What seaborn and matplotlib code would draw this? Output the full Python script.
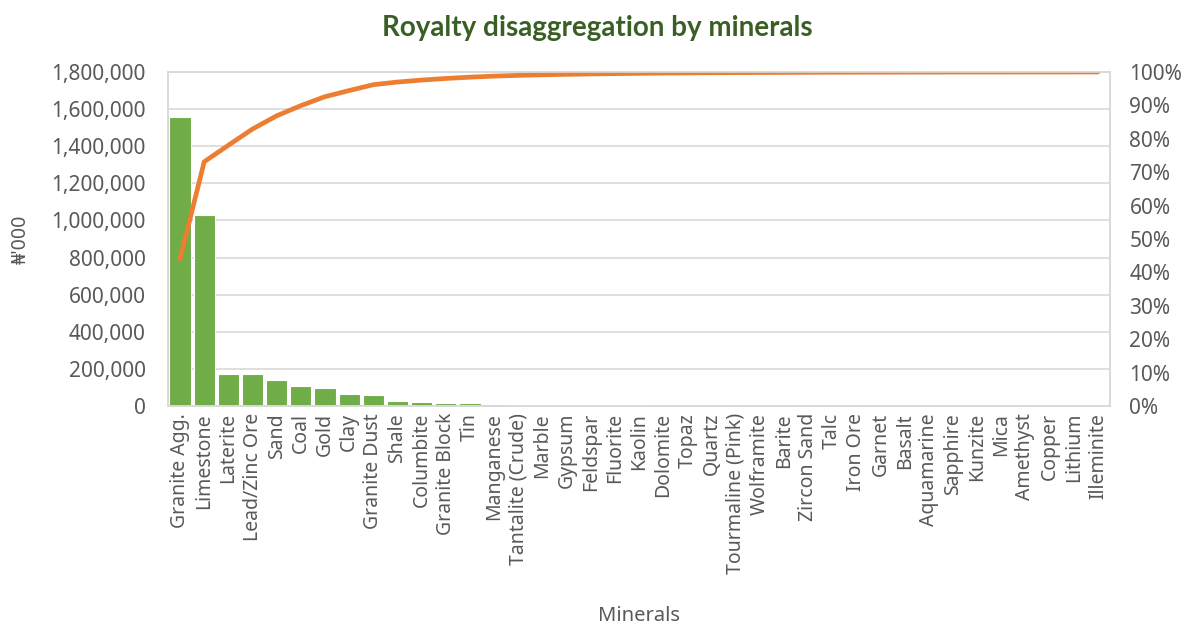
import numpy as np
import pandas as pd
import matplotlib
matplotlib.use("Agg")
import matplotlib.pyplot as plt
from matplotlib.ticker import FuncFormatter, MultipleLocator
import seaborn as sns

# Royalty by mineral, in thousands of naira, sorted descending
minerals = [
    "Granite Agg.", "Limestone", "Laterite", "Lead/Zinc Ore", "Sand", "Coal",
    "Gold", "Clay", "Granite Dust", "Shale", "Columbite", "Granite Block",
    "Tin", "Manganese", "Tantalite (Crude)", "Marble", "Gypsum", "Feldspar",
    "Fluorite", "Kaolin", "Dolomite", "Topaz", "Quartz", "Tourmaline (Pink)",
    "Wolframite", "Barite", "Zircon Sand", "Talc", "Iron Ore", "Garnet",
    "Basalt", "Aquamarine", "Sapphire", "Kunzite", "Mica", "Amethyst",
    "Copper", "Lithium", "Illeminite",
]
royalty = [
    1560000, 1030000, 175000, 172000, 140000, 108000,
    95000, 65000, 62000, 28000, 21000, 17000,
    14000, 11000, 8000, 6000, 5000, 4000,
    3500, 3000, 2500, 2000, 1700, 1400,
    1200, 1000, 850, 700, 600, 500,
    420, 350, 300, 250, 200, 150,
    100, 70, 40,
]

df = pd.DataFrame({"Mineral": minerals, "Royalty": royalty})
df["Cumulative"] = df["Royalty"].cumsum() / df["Royalty"].sum() * 100

BAR = "#70AD47"
LINE = "#ED7D31"
GRID = "#D9D9D9"
TXT = "#595959"

sns.set_theme(style="white")
plt.rcParams["font.family"] = ["Noto Sans", "DejaVu Sans"]

fig = plt.figure(figsize=(11.88, 6.26), dpi=100)
ax = fig.add_axes([0.1414, 0.3514, 0.7929, 0.5336])

sns.barplot(data=df, x="Mineral", y="Royalty", order=minerals, color=BAR,
            saturation=1, width=0.88, edgecolor="white", linewidth=0.8, ax=ax)

ax.set_ylim(0, 1800000)
ax.set_xlim(-0.5, len(minerals) - 0.5)
ax.yaxis.set_major_locator(MultipleLocator(200000))
ax.yaxis.set_major_formatter(FuncFormatter(lambda v, p: f"{int(v):,}"))
ax.grid(axis="y", color=GRID, linewidth=1.2)
ax.set_axisbelow(True)
for s in ax.spines.values():
    s.set_color(GRID)
    s.set_linewidth(1.2)

ax.tick_params(axis="y", labelsize=15, labelcolor=TXT, length=0, pad=16)
ax.tick_params(axis="x", labelsize=14, labelcolor=TXT, length=0, pad=5)
ax.set_xticks(range(len(minerals)))
ax.set_xticklabels(minerals, rotation=90)

ax.set_ylabel("₦'000", fontsize=14, color=TXT, labelpad=15)
ax.set_xlabel("Minerals", fontsize=14.5, color=TXT, fontweight="bold",
              labelpad=0)
ax.xaxis.set_label_coords(0.5, -0.6)

ax2 = ax.twinx()
sns.lineplot(x=np.arange(len(minerals)), y=df["Cumulative"].to_numpy(),
             color=LINE, linewidth=3.4, ax=ax2)
ax2.set_ylim(0, 100)
ax2.yaxis.set_major_locator(MultipleLocator(10))
ax2.yaxis.set_major_formatter(FuncFormatter(lambda v, p: f"{int(round(v))}%"))
ax2.tick_params(axis="y", labelsize=15, labelcolor=TXT, length=0, pad=14)
ax2.set_ylabel("")
for s in ax2.spines.values():
    s.set_color(GRID)
    s.set_linewidth(1.2)

fig.text(0.503, 0.955, "Royalty disaggregation by minerals", ha="center",
         va="center", fontsize=20, fontweight="bold", color="#3A5F24",
         family=["Lato", "DejaVu Sans"])

fig.savefig("out.png", dpi=100, facecolor="white")
